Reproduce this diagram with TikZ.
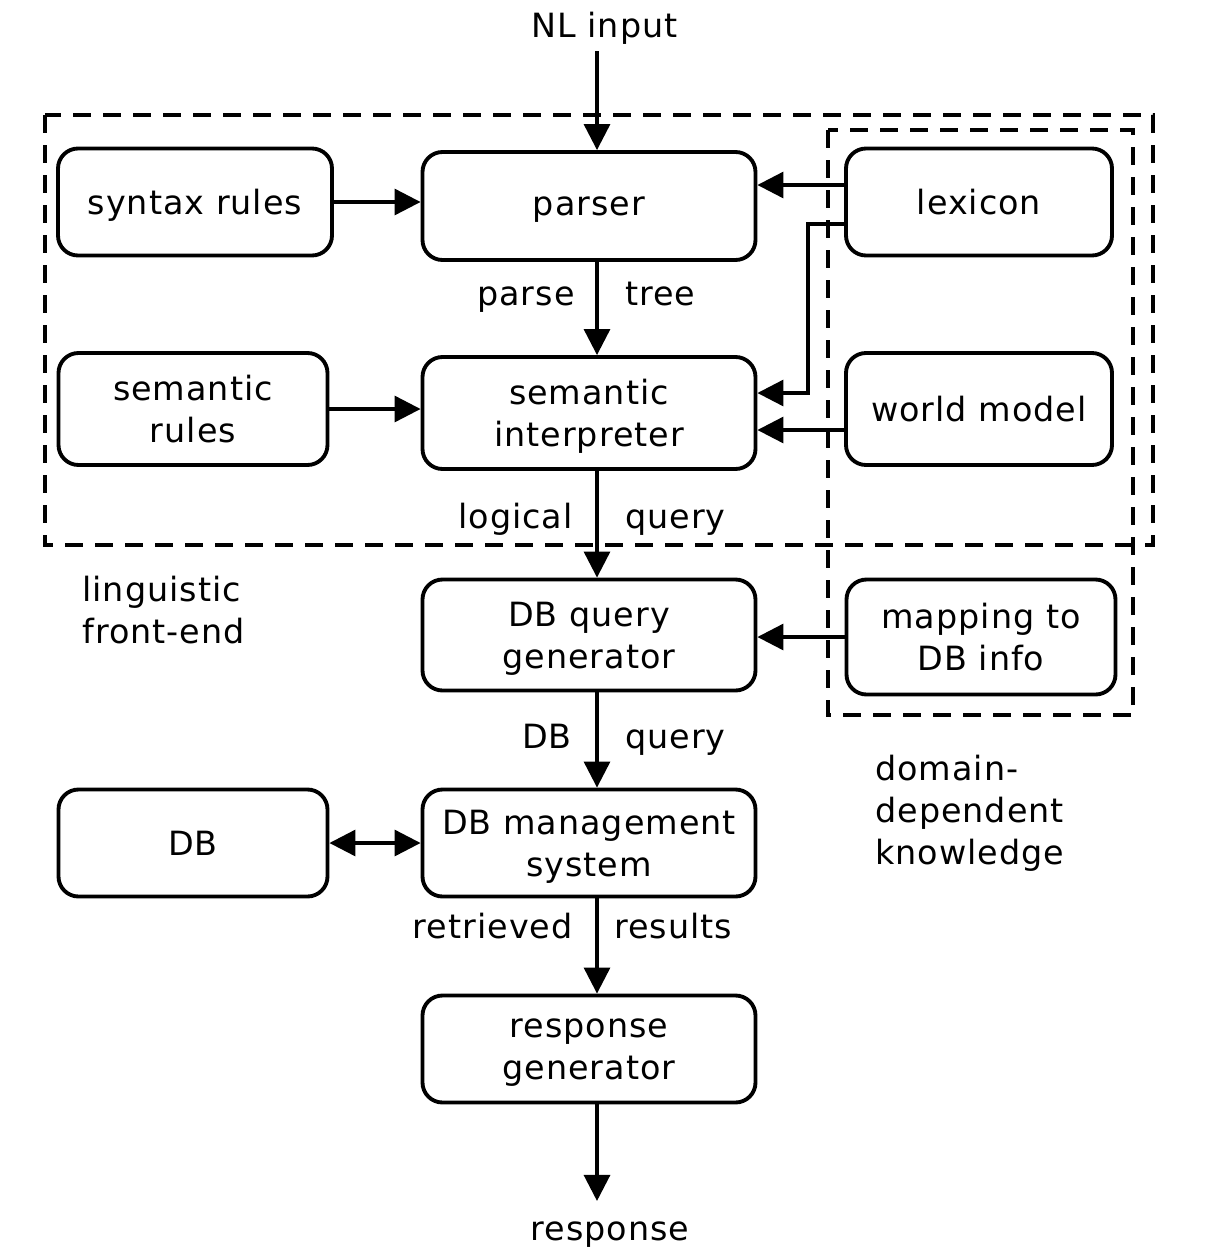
\documentclass[tikz,border=0pt]{standalone}
\usepackage{fontspec}
\setmainfont[LetterSpace=3]{DejaVu Sans}
\usetikzlibrary{arrows.meta,positioning}

\newcommand{\colsh}{0.16cm}

\begin{document}
\begin{tikzpicture}[auto, font=\fontsize{19}{24}\selectfont,
    block/.style={draw, rectangle, rounded corners=0.4cm, line width=2.2pt, align=center, inner sep=0pt, text depth=0pt},
    arr/.style={-{Triangle[length=0.52cm,width=0.52cm]}, line width=1.8pt},
    biarr/.style={{Triangle[length=0.52cm,width=0.52cm]}-{Triangle[length=0.52cm,width=0.52cm]}, line width=1.8pt},
    frame/.style={line width=1.8pt, dash pattern=on 0.36cm off 0.24cm},
    lbl/.style={inner sep=0pt}]

    \useasboundingbox (0,0) rectangle (24.16,-25.08);

    % Nodes
    \node [block, minimum width=5.48cm, minimum height=2.14cm] at (3.90,-4.04) (syntax) {syntax rules};
    \node [block, minimum width=6.66cm, minimum height=2.16cm] at (11.78,-4.12) (parser) {parser};
    \node [block, minimum width=5.32cm, minimum height=2.14cm] at (19.58,-4.04) (lexicon) {lexicon};
    \node [block, minimum width=5.38cm, minimum height=2.24cm] at (3.86,-8.18) (semrules) {semantic\\rules};
    \node [block, minimum width=6.66cm, minimum height=2.24cm] at (11.78,-8.26) (semint) {semantic\\interpreter};
    \node [block, minimum width=5.32cm, minimum height=2.24cm] at (19.58,-8.18) (world) {world model};
    \node [block, minimum width=6.66cm, minimum height=2.22cm] at (11.78,-12.70) (dbqg) {DB query\\generator};
    \node [block, minimum width=5.38cm, minimum height=2.30cm] at (19.62,-12.74) (mapping) {mapping to\\DB info};
    \node [block, minimum width=5.38cm, minimum height=2.14cm] at (3.86,-16.86) (db) {DB};
    \node [block, minimum width=6.66cm, minimum height=2.14cm] at (11.78,-16.86) (dbms) {DB management\\system};
    \node [block, minimum width=6.66cm, minimum height=2.14cm] at (11.78,-20.98) (respgen) {response\\generator};

    \node [anchor=base, inner sep=0.14cm] at (12.09,-0.74) (nl) {NL input};
    \node [anchor=base, inner sep=0.40cm] at (12.20,-24.80) (resp) {response};

    \node [lbl, anchor=base east] at (11.50,-6.10) (parse) {parse};
    \node [lbl, anchor=base west] at (12.50,-6.10) (tree) {tree};
    \node [lbl, anchor=base east] at (11.46,-10.56) (logical) {logical};
    \node [lbl, anchor=base west] at (12.50,-10.56) (lquery) {query};
    \node [lbl, anchor=base east] at (11.44,-14.96) (dblbl) {DB};
    \node [lbl, anchor=base west] at (12.50,-14.96) (dbquery) {query};
    \node [lbl, anchor=base east] at (11.46,-18.76) (retrieved) {retrieved};
    \node [lbl, anchor=base west] at (12.28,-18.76) (results) {results};

    \node [lbl, anchor=west, align=left] at (1.64,-12.20) (front) {linguistic\\front-end};
    \node [lbl, anchor=west, align=left] at (17.50,-16.26) (domain) {domain-\\dependent\\knowledge};

    % Frames
    \draw [frame] (0.90,-2.30) rectangle (23.06,-10.90);
    \draw [frame] (16.56,-2.60) rectangle (22.66,-14.30);

    % Arrows
    \draw [arr] ([xshift=\colsh]parser.north |- nl.south) -- ([xshift=\colsh]parser.north);
    \draw [arr] ([xshift=\colsh]parser.south) -- ([xshift=\colsh]semint.north);
    \draw [arr] ([xshift=\colsh]semint.south) -- ([xshift=\colsh]dbqg.north);
    \draw [arr] ([xshift=\colsh]dbqg.south) -- ([xshift=\colsh]dbms.north);
    \draw [arr] ([xshift=\colsh]dbms.south) -- ([xshift=\colsh]respgen.north);
    \draw [arr] ([xshift=\colsh]respgen.south) -- ([xshift=\colsh]respgen.south |- resp.north);

    \draw [arr] (syntax.east) -- (syntax.east -| parser.west);
    \draw [arr] (semrules.east) -- (semrules.east -| semint.west);
    \draw [arr] ([yshift=0.34cm]lexicon.west) -- ([yshift=0.34cm]lexicon.west -| parser.east);
    \draw [arr] ([yshift=-0.44cm]lexicon.west) -- ++(-0.72,0) |- ([yshift=0.40cm]semint.east);
    \draw [arr] ([yshift=-0.42cm]world.west) -- ([yshift=-0.42cm]world.west -| semint.east);
    \draw [arr] (mapping.west) -- (mapping.west -| dbqg.east);
    \draw [biarr] (db.east) -- (db.east -| dbms.west);

\end{tikzpicture}
\end{document}
